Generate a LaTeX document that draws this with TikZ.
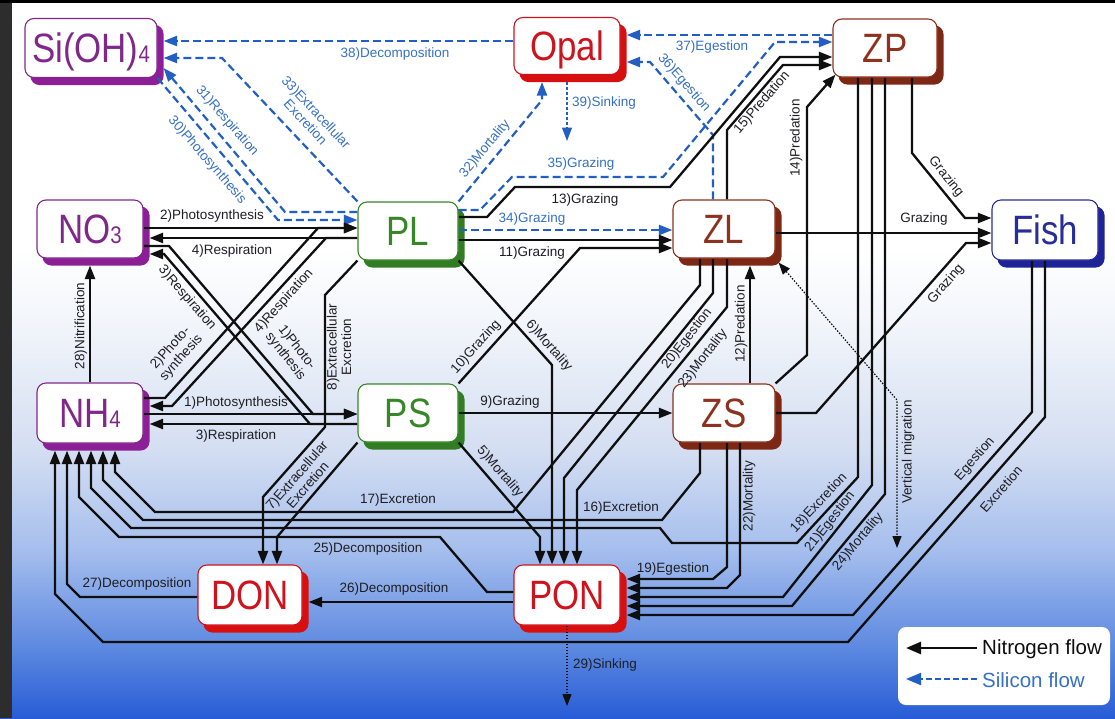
\documentclass[tikz,border=0pt]{standalone}
\usepackage{fontspec}
\setmainfont{Liberation Sans}
\newfontfamily\nodefont[FakeStretch=0.85]{Liberation Sans}
\usetikzlibrary{arrows.meta}
\pgfdeclarelayer{bgl}
\pgfdeclarelayer{shl}
\pgfdeclarelayer{edl}
\pgfsetlayers{bgl,shl,edl,main}
\definecolor{purT}{RGB}{128,40,138}
\definecolor{purS}{RGB}{140,30,150}
\definecolor{redT}{RGB}{205,20,30}
\definecolor{redS}{RGB}{215,15,15}
\definecolor{brnT}{RGB}{140,50,30}
\definecolor{brnS}{RGB}{125,40,20}
\definecolor{grnT}{RGB}{55,135,40}
\definecolor{grnS}{RGB}{50,125,35}
\definecolor{navT}{RGB}{40,45,155}
\definecolor{navS}{RGB}{30,35,150}
\definecolor{siB}{RGB}{35,95,195}
\definecolor{siL}{RGB}{55,112,196}
\definecolor{nB}{RGB}{15,15,15}
\definecolor{lbC}{RGB}{30,30,35}
\definecolor{bg0}{RGB}{40,92,214}
\definecolor{bg1}{RGB}{90,135,224}
\definecolor{bg2}{RGB}{165,190,237}
\definecolor{bg3}{RGB}{212,222,242}
\definecolor{bg4}{RGB}{240,244,250}
\definecolor{strip}{RGB}{45,45,45}
\begin{document}
\begin{tikzpicture}[x=1pt,y=-1pt,
  cbox/.style={rounded corners=9pt, fill=white, line width=1.1pt, inner sep=0pt,
    font=\nodefont\fontsize{41}{41}\selectfont, text height=29.5pt, text depth=0pt},
  tip/.style={-{Triangle[length=13.5pt,width=10pt]}},
  nf/.style={draw=nB, line width=2.3pt, tip},
  sf/.style={draw=siB, line width=2.2pt, dash pattern=on 8pt off 4pt, tip},
  vm/.style={draw=nB, line width=1.2pt, dash pattern=on 1.5pt off 1.5pt},
  lb/.style={font=\fontsize{13.5}{14.5}\selectfont, text=lbC, inner sep=0pt},
  slb/.style={lb, text=siL},
  lgt/.style={anchor=west, font=\fontsize{20.5}{22}\selectfont, inner sep=0pt},
]
\useasboundingbox (0,0) rectangle (1115,718);
\begin{pgfonlayer}{bgl}
\fill[white] (0,0) rectangle (1115,251);
\shade[top color=white, bottom color=bg4] (0,250) rectangle (1115,331);
\shade[top color=bg4, bottom color=bg3] (0,330) rectangle (1115,451);
\shade[top color=bg3, bottom color=bg2] (0,450) rectangle (1115,551);
\shade[top color=bg2, bottom color=bg1] (0,550) rectangle (1115,651);
\shade[top color=bg1, bottom color=bg0] (0,650) rectangle (1115,718);
\fill[strip] (0,0) rectangle (12,718);
\fill[black] (0,0) rectangle (1115,2.5);
\end{pgfonlayer}

% nodes
\node[cbox, draw=purT, text=purT, minimum width=132, minimum height=59] (SiOH) at (91,48) {Si(OH){\fontsize{24}{24}\selectfont 4}};
\node[cbox, draw=redT, text=redT, minimum width=106, minimum height=57] (Opal) at (567,46) {Opal};
\node[cbox, draw=brnT, text=brnT, minimum width=104, minimum height=58] (ZP) at (885,48) {ZP};
\node[cbox, draw=purT, text=purT, minimum width=106, minimum height=58] (NO3) at (90,229) {NO{\fontsize{24}{24}\selectfont 3}};
\node[cbox, draw=grnT, text=grnT, minimum width=100, minimum height=58] (PL) at (408,231) {PL};
\node[cbox, draw=brnT, text=brnT, minimum width=102, minimum height=58] (ZL) at (724,229) {ZL};
\node[cbox, draw=navT, text=navT, minimum width=106, minimum height=60] (Fish) at (1045,230) {Fish};
\node[cbox, draw=purT, text=purT, minimum width=106, minimum height=60] (NH4) at (90,413) {NH{\fontsize{24}{24}\selectfont 4}};
\node[cbox, draw=grnT, text=grnT, minimum width=100, minimum height=58] (PS) at (408,413) {PS};
\node[cbox, draw=brnT, text=brnT, minimum width=102, minimum height=58] (ZS) at (724,413) {ZS};
\node[cbox, draw=redT, text=redT, minimum width=104, minimum height=60] (DON) at (250,595) {DON};
\node[cbox, draw=redT, text=redT, minimum width=106, minimum height=60] (PON) at (567,595) {PON};

% helper coordinates (shadow edges)
\coordinate (SiOHr) at ([xshift=6pt]SiOH.east);
\coordinate (NO3r) at ([xshift=6pt]NO3.east);
\coordinate (NO3b) at ([yshift=-7pt]NO3.south);
\coordinate (NH4r) at ([xshift=6pt]NH4.east);
\coordinate (NH4b) at ([yshift=-7pt]NH4.south);
\coordinate (Opalr) at ([xshift=6pt]Opal.east);
\coordinate (Opalb) at ([yshift=-7pt]Opal.south);
\coordinate (ZLb) at ([yshift=-7pt]ZL.south);
\coordinate (ZLc) at ([shift={(3pt,-4pt)}]ZL.south east);
\coordinate (ZPc) at ([shift={(3pt,3pt)}]ZP.south west);
\coordinate (PONr) at ([xshift=6pt]PON.east);
\coordinate (DONr) at ([xshift=6pt]DON.east);
\coordinate (s39) at (567,141);
\coordinate (s29) at (567,706);
\coordinate (vmE) at (897,548);

\begin{pgfonlayer}{shl}
\foreach \n/\c in {SiOH/purS,Opal/redS,ZP/brnS,NO3/purS,PL/grnS,ZL/brnS,Fish/navS,NH4/purS,PS/grnS,ZS/brnS,DON/redS,PON/redS}
  \fill[\c, rounded corners=9pt] ([shift={(6pt,-7pt)}]\n.south west) rectangle ([shift={(6pt,-7pt)}]\n.north east);
\end{pgfonlayer}

\begin{pgfonlayer}{edl}
% ---------- silicon flows
\draw[sf] (Opal.west |- 0,41) -- (SiOHr |- 0,41);
\draw[sf] (PL.north west) -- (222,58) -- (SiOHr |- 0,58);
\draw[sf] (PL.west |- 0,212) -- (285,212) -- (SiOHr |- 0,68);
\draw[sf] (SiOH.south east) -- (278,220) -- (PL.west |- 0,220);
\draw[sf] (PL.north east) -- (542,100) -- (542,0 |- Opalb);
\draw[draw=siB, line width=1.3pt, dash pattern=on 3pt off 2pt, tip] (567,0 |- Opalb) -- (s39);
\draw[sf] (PL.east |- 0,210) -- (480,210) -- (512,177) -- (663,177) -- (775,42) -- (ZP.west |- 0,42);
\draw[sf] (PL.east |- 0,230) -- (ZL.west |- 0,230);
\draw[sf] (713,0 |- ZL.north) -- (713,135) -- (650,62) -- (Opalr |- 0,62);
\draw[sf] (ZP.west |- 0,35) -- (Opalr |- 0,35);
% ---------- nitrogen flows
\draw[nf] (NO3.east |- 0,228) -- (PL.west |- 0,228);
\draw[nf] (PL.west |- 0,238) -- (NO3r |- 0,238);
\draw[nf] (NH4.east |- 0,398) -- (165,398) -- (318,228) -- (PL.west |- 0,228);
\draw[nf] (PL.west |- 0,238) -- (326,238) -- (172,406) -- (NH4r |- 0,406);
\draw[nf] (NH4.east |- 0,414) -- (PS.west |- 0,414);
\draw[nf] (PS.west |- 0,424) -- (NH4r |- 0,424);
\draw[nf] (NO3.east |- 0,246) -- (169,246) -- (313,414) -- (PS.west |- 0,414);
\draw[nf] (PS.west |- 0,424) -- (310,424) -- (164,254) -- (NO3r |- 0,254);
\draw[nf] (PL.south west) -- (325,295) -- (325,427) -- (263,497) -- (263,0 |- DON.north);
\draw[nf] (PS.south west) -- (277,537) -- (277,0 |- DON.north);
\draw[nf] (PS.north east) -- (580,248) -- (ZL.west |- 0,248);
\draw[nf] (PL.east |- 0,240) -- (ZL.west |- 0,240);
\draw[nf] (PL.east |- 0,217) -- (487,217) -- (515,187) -- (670,187) -- (780,57) -- (ZP.west |- 0,57);
\draw[nf] (727,0 |- ZL.north) -- (727,130) -- (783,65) -- (ZP.west |- 0,65);
\draw[nf] (ZS.north east) -- (807,355) -- (807,107) -- (ZPc);
\draw[nf] (750,0 |- ZS.north) -- (750,0 |- ZLb);
\draw[nf] (ZL.east |- 0,233) -- (Fish.west |- 0,233);
\draw[nf] (912,0 |- ZP.south) -- (912,153) -- (965,218) -- (Fish.west |- 0,218);
\draw[nf] (ZS.east |- 0,413) -- (816,413) -- (966,243) -- (Fish.west |- 0,243);
\draw[nf] (PS.east |- 0,413) -- (ZS.west |- 0,413);
\draw[nf] (PL.south east) -- (552,365) -- (552,0 |- PON.north);
\draw[nf] (PS.south east) -- (540,537) -- (540,0 |- PON.north);
\draw[nf] (713,0 |- ZL.south) -- (713,293) -- (564,478) -- (564,0 |- PON.north);
\draw[nf] (727,0 |- ZL.south) -- (727,307) -- (577,490) -- (577,0 |- PON.north);
\draw[nf] (700,0 |- ZL.south) -- (700,285) -- (513,512) -- (155,512) -- (115,472) -- (115,0 |- NH4b);
\draw[nf] (700,0 |- ZS.south) -- (700,473) -- (662,520) -- (143,520) -- (103,480) -- (103,0 |- NH4b);
\draw[nf] (858,0 |- ZP.south) -- (858,477) -- (797,543) -- (672,543) -- (660,528) -- (131,528) -- (91,488) -- (91,0 |- NH4b);
\draw[nf] (PON.west |- 0,592) -- (487,592) -- (440,537) -- (119,537) -- (79,497) -- (79,0 |- NH4b);
\draw[nf] (DON.west |- 0,597) -- (80,597) -- (67,584) -- (67,0 |- NH4b);
\draw[nf] (1045,0 |- Fish.south) -- (1045,417) -- (848,642) -- (103,642) -- (55,594) -- (55,0 |- NH4b);
\draw[nf] (1032,0 |- Fish.south) -- (1032,412) -- (853,615) -- (PONr |- 0,615);
\draw[nf] (727,0 |- ZS.south) -- (727,567) -- (713,579) -- (PONr |- 0,579);
\draw[nf] (740,0 |- ZS.south) -- (740,575) -- (727,588) -- (PONr |- 0,588);
\draw[nf] (872,0 |- ZP.south) -- (872,485) -- (783,597) -- (PONr |- 0,597);
\draw[nf] (885,0 |- ZP.south) -- (885,494) -- (792,606) -- (PONr |- 0,606);
\draw[nf] (PON.west |- 0,602) -- (DONr |- 0,602);
\draw[nf] (NH4.north) -- (NO3b);
\draw[vm, {Triangle[length=12pt,width=9pt]}-{Triangle[length=12pt,width=9pt]}] (ZLc) -- (897,400) -- (vmE);
\draw[vm, -{Triangle[length=12pt,width=9pt]}] (PON.south) -- (s29);
\end{pgfonlayer}

% ---------- labels (silicon)
\node[slb] (l38) at (395,54) {38)Decomposition};
\node[slb, rotate=-47, align=center] (l33) at (311,117) {33)Extracellular\\Excretion};
\node[slb, rotate=-49] (l31) at (227,121) {31)Respiration};
\node[slb, rotate=-49] (l30) at (207,160) {30)Photosynthesis};
\node[slb, rotate=50] (l32) at (485,149) {32)Mortality};
\node[slb, anchor=west] (l39) at (572,103) {39)Sinking};
\node[slb] (l35) at (581,164) {35)Grazing};
\node[slb] (l34) at (532,219) {34)Grazing};
\node[slb, rotate=-49] (l36) at (684,83) {36)Egestion};
\node[slb] (l37) at (712,47) {37)Egestion};
% ---------- labels (nitrogen)
\node[lb] (l2) at (212,216) {2)Photosynthesis};
\node[lb] (l4) at (232,251) {4)Respiration};
\node[lb, rotate=48, align=center] (l2b) at (176,353) {2)Photo-\\synthesis};
\node[lb, rotate=48] (l4b) at (284,301) {4)Respiration};
\node[lb] (l1) at (236,403) {1)Photosynthesis};
\node[lb] (l3) at (236,436) {3)Respiration};
\node[lb, rotate=-49] (l3b) at (187,298) {3)Respiration};
\node[lb, rotate=-52, align=center] (l1b) at (291,352) {1)Photo-\\synthesis};
\node[lb, rotate=90, align=center] (l8) at (339,347) {8)Extracellular\\Excretion};
\node[lb, rotate=49, align=center] (l7) at (302,480) {7)Extracellular\\Excretion};
\node[lb, rotate=48] (l10) at (476,347) {10)Grazing};
\node[lb] (l11) at (532,253) {11)Grazing};
\node[lb] (l13) at (585,200) {13)Grazing};
\node[lb, rotate=49] (l15) at (762,103) {15)Predation};
\node[lb, rotate=90] (l14) at (796,138) {14)Predation};
\node[lb, rotate=90] (l12) at (741,324) {12)Predation};
\node[lb] (lG1) at (924,219) {Grazing};
\node[lb, rotate=-51] (lG2) at (946,177) {Grazing};
\node[lb, rotate=49] (lG3) at (946,284) {Grazing};
\node[lb] (l9) at (510,402) {9)Grazing};
\node[lb, rotate=-49] (l6) at (549,346) {6)Mortality};
\node[lb, rotate=-49] (l5) at (500,472) {5)Mortality};
\node[lb, rotate=52] (l20) at (687,339) {20)Egestion};
\node[lb, rotate=52] (l23) at (703,359) {23)Mortality};
\node[lb] (l17) at (398,500) {17)Excretion};
\node[lb] (l16) at (621,508) {16)Excretion};
\node[lb, rotate=47] (l18) at (819,503) {18)Excretion};
\node[lb] (l25) at (368,549) {25)Decomposition};
\node[lb] (l27) at (137,584) {27)Decomposition};
\node[lb] (l26) at (394,589) {26)Decomposition};
\node[lb, rotate=49] (lEx) at (1001,489) {Excretion};
\node[lb, rotate=49] (lEg) at (975,459) {Egestion};
\node[lb] (l19) at (673,569) {19)Egestion};
\node[lb, rotate=90] (l22) at (749,496) {22)Mortality};
\node[lb, rotate=52] (l21) at (830,522) {21)Egestion};
\node[lb, rotate=50] (l24) at (858,542) {24)Mortality};
\node[lb, rotate=90] (lVM) at (908,452) {Vertical migration};
\node[lb, anchor=west] (l29) at (573,665) {29)Sinking};
\node[lb, rotate=90] (l28) at (81,326) {28)Nitrification};

% ---------- legend
\node[fill=white, rounded corners=8pt, minimum width=212, minimum height=78, inner sep=0pt] (leg) at (1004,666) {};
\coordinate (lgA) at (977,648);
\coordinate (lgB) at (906,648);
\coordinate (lgC) at (977,679);
\coordinate (lgD) at (906,679);
\draw[draw=nB, line width=2.6pt, -{Triangle[length=15pt,width=12pt]}] (lgA) -- (lgB);
\draw[draw=siB, line width=2pt, dash pattern=on 6pt off 3pt, -{Triangle[length=15pt,width=12pt]}] (lgC) -- (lgD);
\node[lgt, text=nB] (lgN) at (982,649) {Nitrogen flow};
\node[lgt, text=siL] (lgS) at (982,680) {Silicon flow};
\end{tikzpicture}
\end{document}
